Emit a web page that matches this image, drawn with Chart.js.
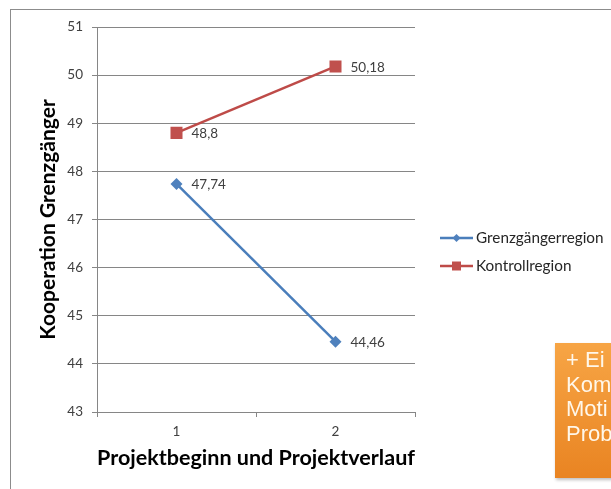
<!DOCTYPE html>
<html>
<head>
<meta charset="utf-8">
<script src="https://cdn.jsdelivr.net/npm/chart.js@4"></script>
<style>
  html, body { margin: 0; padding: 0; background: #fff; }
  #wrap { position: relative; width: 611px; height: 489px; overflow: hidden; }
  #frame { position: absolute; left: 10px; top: 9px; width: 640px; height: 520px; border: 1px solid #8c8c8c; }
  canvas { position: absolute; left: 0; top: 0; }
  #note {
    position: absolute; left: 555px; top: 343px; width: 120px; height: 135px;
    background: linear-gradient(#f7a545, #e98422);
    box-shadow: 1px 2px 3px rgba(0,0,0,0.25);
    color: #fff7ea; font: 22px "Liberation Sans", Arial, sans-serif; line-height: 24.5px;
    padding: 5px 0 0 11px; box-sizing: border-box;
  }
</style>
</head>
<body>
<div id="wrap">
  <div id="frame"></div>
  <canvas id="chart" width="611" height="489"></canvas>
  <div id="note">+ Ei<br>Kom<br>Moti<br>Prob</div>
</div>
<script>
const categories = ['1', '2'];
const grenzValues = [47.74, 44.46];
const kontrollValues = [48.8, 50.18];
const seriesNames = ['Grenzgängerregion', 'Kontrollregion'];
const yTicks = [43, 44, 45, 46, 47, 48, 49, 50, 51];

const fmt = v => String(v).replace('.', ',');

// value labels to the right of each point
const valueLabels = {
  id: 'valueLabels',
  afterDatasetsDraw(chart) {
    const ctx = chart.ctx;
    ctx.save();
    ctx.font = '13.5px Lato, sans-serif';
    ctx.fillStyle = '#404040';
    ctx.textBaseline = 'middle';
    chart.data.datasets.forEach((ds, i) => {
      chart.getDatasetMeta(i).data.forEach((pt, j) => {
        ctx.fillText(fmt(ds.data[j]), pt.x + 15, pt.y + 1);
      });
    });
    ctx.restore();
  }
};

// legend drawn like the excel one (line with marker)
const sideLegend = {
  id: 'sideLegend',
  afterDraw(chart) {
    const ctx = chart.ctx;
    ctx.save();
    ctx.font = '15.3px Lato, sans-serif';
    ctx.textBaseline = 'middle';
    chart.data.datasets.forEach((ds, i) => {
      const y = 238 + i * 28;
      ctx.strokeStyle = ds.borderColor;
      ctx.lineWidth = 2.5;
      ctx.beginPath();
      ctx.moveTo(440, y);
      ctx.lineTo(473, y);
      ctx.stroke();
      ctx.fillStyle = ds.pointBackgroundColor;
      ctx.beginPath();
      if (i === 0) {
        ctx.moveTo(456.5, y - 4); ctx.lineTo(460.5, y); ctx.lineTo(456.5, y + 4); ctx.lineTo(452.5, y);
      } else {
        ctx.rect(452, y - 4.5, 9, 9);
      }
      ctx.fill();
      ctx.fillStyle = '#262626';
      ctx.fillText(ds.label, 476, y);
    });
    ctx.restore();
  }
};

new Chart(document.getElementById('chart'), {
  type: 'line',
  data: {
    labels: categories,
    datasets: [
      {
        label: seriesNames[0],
        data: grenzValues,
        borderColor: '#4a7ebb',
        borderWidth: 2.5,
        pointStyle: 'rectRot',
        pointRadius: 6,
        pointBorderWidth: 0,
        pointBackgroundColor: '#4f81bd',
        tension: 0
      },
      {
        label: seriesNames[1],
        data: kontrollValues,
        borderColor: '#be4b48',
        borderWidth: 2.5,
        pointStyle: 'rect',
        pointRadius: 8.5,
        pointBorderWidth: 0,
        pointBackgroundColor: '#c0504d',
        tension: 0
      }
    ]
  },
  options: {
    responsive: false,
    animation: false,
    layout: { padding: { left: 36, top: 27, right: 196, bottom: 14 } },
    plugins: { legend: { display: false }, tooltip: { enabled: false } },
    scales: {
      x: {
        offset: true,
        grid: { display: true, drawOnChartArea: false, offset: true, tickLength: 5, color: '#868686' },
        border: { color: '#868686' },
        ticks: { color: '#404040', font: { family: 'Lato', size: 13.5 }, padding: 7 },
        title: { display: true, text: 'Projektbeginn und Projektverlauf', color: '#000', font: { family: 'Lato', size: 21.8, weight: 'bold' }, padding: { top: 1 } },
        afterFit(scale) { scale.height = 63; }
      },
      y: {
        min: 43,
        max: 51,
        afterBuildTicks(scale) { scale.ticks = yTicks.map(v => ({ value: v })); },
        grid: { color: '#868686', tickLength: 5 },
        border: { color: '#868686' },
        ticks: { color: '#404040', font: { family: 'Lato', size: 13.5 }, padding: 9 },
        title: { display: true, text: 'Kooperation Grenzgänger', color: '#000', font: { family: 'Lato', size: 21, weight: 'bold' }, padding: { top: 0, bottom: 4 } },
        afterFit(scale) { scale.width = 61; }
      }
    }
  },
  plugins: [valueLabels, sideLegend]
});
</script>
</body>
</html>
